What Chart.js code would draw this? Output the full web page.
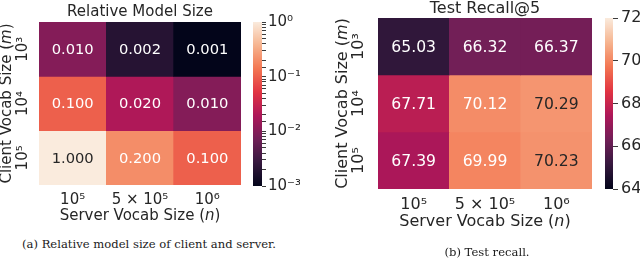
<!DOCTYPE html>
<html><head><meta charset="utf-8">
<script src="https://cdn.jsdelivr.net/npm/chart.js@4/dist/chart.umd.min.js"></script>
<style>
html,body{margin:0;padding:0;background:#fff;width:640px;height:258px;overflow:hidden;}
canvas{position:absolute;}
.cap{position:absolute;font-family:"DejaVu Serif";font-size:11.6px;color:#1a1a1a;white-space:nowrap;transform:translate(-50%,-50%);}
</style></head><body>
<canvas id="hmA" width="250" height="235" style="left:0;top:0"></canvas>
<canvas id="cbA" width="55" height="235" style="left:245px;top:0"></canvas>
<canvas id="hmB" width="285" height="235" style="left:320px;top:0"></canvas>
<canvas id="cbB" width="43" height="235" style="left:597px;top:0"></canvas>
<div class="cap" style="left:149px;top:244px">(a) Relative model size of client and server.</div>
<div class="cap" style="left:487px;top:252px">(b) Test recall.</div>
<script>
// ---- data ----
const serverSizes = ['10⁵', '5 × 10⁵', '10⁶'];
const clientSizes = ['10³', '10⁴', '10⁵'];
const sizeClient1e3 = [0.010, 0.002, 0.001];
const sizeClient1e4 = [0.100, 0.020, 0.010];
const sizeClient1e5 = [1.000, 0.200, 0.100];
const recallClient1e3 = [65.03, 66.32, 66.37];
const recallClient1e4 = [67.71, 70.12, 70.29];
const recallClient1e5 = [67.39, 69.99, 70.23];
const sizeRange = [0.001, 1];
const recallRange = [64, 72];
const recallTicks = [64, 66, 68, 70, 72];

// ---- colormap (rocket) ----
const rocketStops = [
  [0.000, [3, 5, 26]], [0.143, [53, 25, 62]], [0.286, [112, 31, 87]],
  [0.429, [173, 23, 89]], [0.571, [225, 51, 66]], [0.714, [243, 118, 81]],
  [0.857, [246, 180, 143]], [1.000, [250, 235, 221]]
];
function rocket(t) {
  t = Math.max(0, Math.min(1, t));
  for (let i = 1; i < rocketStops.length; i++) {
    const [p1, c1] = rocketStops[i], [p0, c0] = rocketStops[i - 1];
    if (t <= p1) {
      const f = (t - p0) / (p1 - p0);
      return c0.map((c, k) => Math.round(c + f * (c1[k] - c)));
    }
  }
  return rocketStops[rocketStops.length - 1][1];
}
const css = c => `rgb(${c[0]},${c[1]},${c[2]})`;
function lum(c) {
  const l = c.map(v => { v /= 255; return v <= 0.03928 ? v / 12.92 : Math.pow((v + 0.055) / 1.055, 2.4); });
  return 0.2126 * l[0] + 0.7152 * l[1] + 0.0722 * l[2];
}
const TXT = '#262626';
const FONT = 'DejaVu Sans';
const logNorm = v => (Math.log10(v) - Math.log10(sizeRange[0])) / (Math.log10(sizeRange[1]) - Math.log10(sizeRange[0]));
const linNorm = v => (v - recallRange[0]) / (recallRange[1] - recallRange[0]);

// draw text made of parts with different fonts, centered at (x,y), optionally rotated
function drawParts(ctx, parts, x, y, rot) {
  ctx.save();
  ctx.translate(x, y);
  if (rot) ctx.rotate(rot);
  ctx.textBaseline = 'middle';
  ctx.textAlign = 'left';
  let w = 0;
  parts.forEach(p => { ctx.font = p.font; w += ctx.measureText(p.text).width; });
  let cx = -w / 2;
  parts.forEach(p => { ctx.font = p.font; ctx.fillStyle = TXT; ctx.fillText(p.text, cx, 0); cx += ctx.measureText(p.text).width; });
  ctx.restore();
}

const cellLabels = {
  id: 'cellLabels',
  afterDatasetsDraw(chart, args, o) {
    const ctx = chart.ctx;
    ctx.save();
    ctx.font = `${o.size}px ${FONT}`;
    ctx.textAlign = 'center';
    ctx.textBaseline = 'middle';
    chart.data.datasets.forEach((ds, di) => {
      chart.getDatasetMeta(di).data.forEach((el, i) => {
        const p = el.getProps(['x', 'y', 'base'], true);
        const v = ds.values[i];
        const c = rocket(o.norm(v));
        ctx.fillStyle = lum(c) > 0.40 ? TXT : '#ffffff';
        ctx.fillText(o.fmt(v), p.x, (p.y + p.base) / 2 + 1);
      });
    });
    ctx.restore();
  }
};
const deco = {
  id: 'deco',
  afterDraw(chart, args, o) {
    const ctx = chart.ctx, a = chart.chartArea, ys = chart.scales.y;
    const f = `${o.size}px ${FONT}`, fi = `italic ${o.size}px ${FONT}`;
    drawParts(ctx, [{text: o.title, font: f}], (a.left + a.right) / 2, o.titleY);
    drawParts(ctx, [{text: 'Server Vocab Size (', font: f}, {text: 'n', font: fi}, {text: ')', font: f}], (a.left + a.right) / 2, o.xTitleY);
    drawParts(ctx, [{text: 'Client Vocab Size (', font: f}, {text: 'm', font: fi}, {text: ')', font: f}], o.yTitleX, (a.top + a.bottom) / 2, -Math.PI / 2);
    clientSizes.forEach((lab, r) => {
      drawParts(ctx, [{text: lab, font: f}], o.yTickX, ys.getPixelForValue(r + 0.5), -Math.PI / 2);
    });
  }
};

function heatmap(id, rows, norm, fmt, L) {
  const datasets = rows.map((vals, r) => ({
    label: clientSizes[r],
    data: vals.map(() => 1),
    values: vals,
    backgroundColor: vals.map(v => css(rocket(norm(v)))),
    borderWidth: 0,
    barPercentage: 1,
    categoryPercentage: 1
  }));
  return new Chart(document.getElementById(id), {
    type: 'bar',
    data: {labels: serverSizes, datasets},
    plugins: [cellLabels, deco],
    options: {
      responsive: false, animation: false, devicePixelRatio: 1,
      layout: {padding: {left: 0, top: L.top, right: L.right, bottom: 0}},
      plugins: {
        legend: {display: false}, tooltip: {enabled: false},
        cellLabels: {size: L.cell, norm, fmt},
        deco: L.deco
      },
      scales: {
        x: {
          type: 'category', stacked: true,
          grid: {display: false, drawTicks: false}, border: {display: false},
          ticks: {color: TXT, font: {family: FONT, size: L.size}, padding: L.xPad, maxRotation: 0, autoSkip: false},
          afterFit(s) { s.height = L.xH; }
        },
        y: {
          type: 'linear', stacked: true, min: 0, max: 3, reverse: true,
          grid: {display: false}, border: {display: false},
          ticks: {display: false},
          afterFit(s) { s.width = L.yW; }
        }
      }
    }
  });
}

const sup = {'0': '⁰', '1': '¹', '2': '²', '3': '³', '4': '⁴', '5': '⁵', '6': '⁶', '7': '⁷', '8': '⁸', '9': '⁹', '-': '⁻'};
function colorbar(id, yOpts, L) {
  return new Chart(document.getElementById(id), {
    type: 'bar',
    data: {labels: [''], datasets: [{
      data: [[yOpts.min, yOpts.max]],
      borderWidth: 0, barPercentage: 1, categoryPercentage: 1,
      backgroundColor(c) {
        const a = c.chart.chartArea;
        if (!a) return '#888';
        const g = c.chart.ctx.createLinearGradient(0, a.bottom, 0, a.top);
        for (let i = 0; i <= 40; i++) g.addColorStop(i / 40, css(rocket(i / 40)));
        return g;
      }
    }]},
    options: {
      responsive: false, animation: false, devicePixelRatio: 1,
      layout: {padding: {left: L.left, top: L.top, right: 0, bottom: L.bottom}},
      plugins: {legend: {display: false}, tooltip: {enabled: false}},
      scales: {
        x: {display: false},
        y: Object.assign({
          position: 'right',
          grid: {drawOnChartArea: false, drawTicks: true, tickLength: L.tick, tickColor: TXT, tickWidth: L.tickW || 0.9},
          border: {display: false},
          ticks: Object.assign({color: TXT, font: {family: FONT, size: L.size}, padding: L.pad, autoSkip: false}, L.ticks || {}),
          afterFit(s) { s.width = L.yW; }
        }, yOpts)
      }
    }
  });
}

heatmap('hmA', [sizeClient1e3, sizeClient1e4, sizeClient1e5], logNorm, v => v.toFixed(3),
  {top: 22, right: 9, yW: 39, xH: 50, size: 15, cell: 14.7, xPad: 6,
   deco: {size: 15, title: 'Relative Model Size', titleY: 12.5, xTitleY: 216, yTitleX: 7, yTickX: 23.5}});
heatmap('hmB', [recallClient1e3, recallClient1e4, recallClient1e5], linNorm, v => v.toFixed(2),
  {top: 18, right: 13, yW: 58, xH: 46, size: 16, cell: 15.6, xPad: 6,
   deco: {size: 16, title: 'Test Recall@5', titleY: 8.5, xTitleY: 222, yTitleX: 23, yTickX: 39}});

colorbar('cbA', {type: 'logarithmic', min: sizeRange[0], max: sizeRange[1]},
  {left: 8, top: 22, bottom: 49, yW: 38, tick: 4, pad: 2, size: 15,
   ticks: {callback(v) {
     const e = Math.log10(v);
     if (Math.abs(e - Math.round(e)) > 1e-6) return '';
     return '10' + String(Math.round(e)).split('').map(ch => sup[ch]).join('');
   }}});
colorbar('cbB', {type: 'linear', min: recallRange[0], max: recallRange[1], afterBuildTicks(s) { s.ticks = recallTicks.map(v => ({value: v})); }},
  {left: 8, top: 18, bottom: 46, yW: 27, tick: 5, pad: 3, size: 16});
</script>
</body></html>
